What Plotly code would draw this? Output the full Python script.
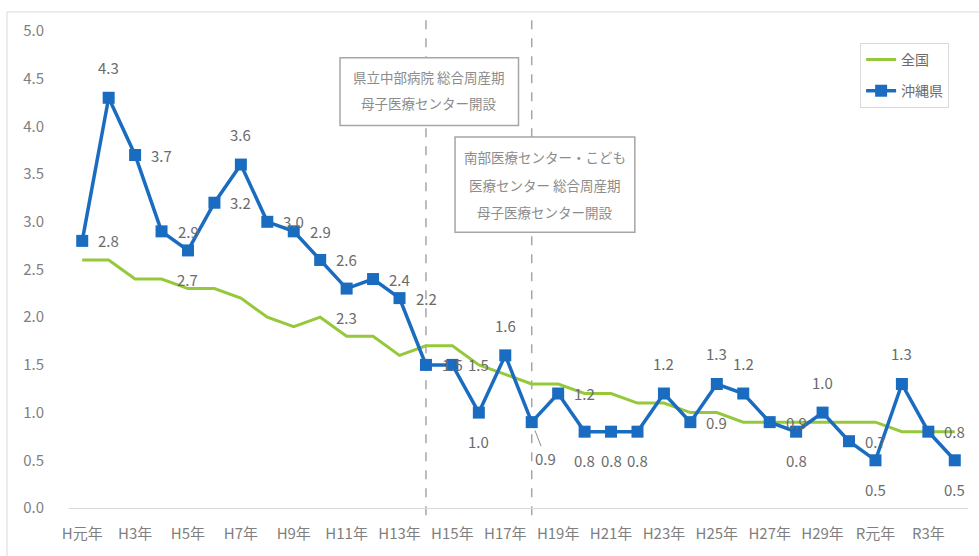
import plotly.graph_objects as go

# 年次（平成・令和）
years = [
    "H元年", "H2年", "H3年", "H4年", "H5年", "H6年", "H7年", "H8年", "H9年", "H10年",
    "H11年", "H12年", "H13年", "H14年", "H15年", "H16年", "H17年", "H18年", "H19年", "H20年",
    "H21年", "H22年", "H23年", "H24年", "H25年", "H26年", "H27年", "H28年", "H29年", "H30年",
    "R元年", "R2年", "R3年", "R4年",
]

# 全国
national = [
    2.6, 2.6, 2.4, 2.4, 2.3, 2.3, 2.2, 2.0, 1.9, 2.0,
    1.8, 1.8, 1.6, 1.7, 1.7, 1.5, 1.4, 1.3, 1.3, 1.2,
    1.2, 1.1, 1.1, 1.0, 1.0, 0.9, 0.9, 0.9, 0.9, 0.9,
    0.9, 0.8, 0.8, 0.8,
]

# 沖縄県
okinawa = [
    2.8, 4.3, 3.7, 2.9, 2.7, 3.2, 3.6, 3.0, 2.9, 2.6,
    2.3, 2.4, 2.2, 1.5, 1.5, 1.0, 1.6, 0.9, 1.2, 0.8,
    0.8, 0.8, 1.2, 0.9, 1.3, 1.2, 0.9, 0.8, 1.0, 0.7,
    0.5, 1.3, 0.8, 0.5,
]

# データラベルの配置（r: 右, t: 上, b: 下, br: 右下・引き出し線付き）
label_side = [
    "r", "t", "r", "r", "b", "r", "t", "r", "r", "r",
    "b", "r", "r", "r", "r", "b", "t", "br", "r", "b",
    "b", "b", "t", "r", "t", "t", "r", "b", "t", "r",
    "b", "t", "r", "b",
]

tick_labels = years[::2]

events = [
    ("H14年", ["県立中部病院 総合周産期", "母子医療センター開設"]),
    ("H18年", ["南部医療センター・こども", "医療センター 総合周産期", "母子医療センター開設"]),
]

FONT = "Noto Sans CJK JP, Meiryo, sans-serif"
BLUE = "#1A6CC0"
GREEN = "#96C83C"
GRAY_TXT = "#6b6b6b"

fig = go.Figure()

fig.add_trace(go.Scatter(
    x=years, y=national, name="全国", mode="lines",
    line=dict(color=GREEN, width=3), legendgroup="a",
))
fig.add_trace(go.Scatter(
    x=years, y=okinawa, name="沖縄県", mode="lines+markers",
    line=dict(color=BLUE, width=3.5),
    marker=dict(symbol="square", size=12, color=BLUE),
    legendgroup="b",
))

# 沖縄県の数値ラベル
annotations = []
for i, (yr, v, side) in enumerate(zip(years, okinawa, label_side)):
    a = dict(x=i, y=v, xref="x", yref="y", text=f"{v:.1f}", showarrow=False,
             font=dict(family=FONT, size=15, color=GRAY_TXT))
    if side == "r":
        a.update(xanchor="left", yanchor="middle", xshift=14)
    elif side == "t":
        a.update(xanchor="center", yanchor="middle", yshift=30)
    elif side == "b":
        a.update(xanchor="center", yanchor="middle", yshift=-29)
    elif side == "br":
        a.update(showarrow=True, ax=14, ay=36, arrowhead=0, arrowwidth=1,
                 arrowcolor="#8c8c8c", standoff=9)
    annotations.append(a)

shapes = []
# 外枠
shapes.append(dict(type="rect", xref="paper", yref="paper",
                   x0=-0.069, x1=1.03, y0=-0.12, y1=1.04,
                   line=dict(color="#d9d9d9", width=1), layer="below"))

# 開設年の縦破線
for yr, _ in events:
    xi = years.index(yr)
    shapes.append(dict(type="line", xref="x", yref="paper", x0=xi, x1=xi,
                       y0=-0.015, y1=1.035,
                       line=dict(color="#a6a6a6", width=1.5, dash="dash"),
                       layer="below"))

# 説明ボックス（データ座標: x=年次の位置, y=率）
boxes = [
    dict(x0=9.75, x1=16.5, y0=4.01, y1=4.72, lines_y=[4.52, 4.25]),
    dict(x0=14.1, x1=20.9, y0=2.89, y1=3.89, lines_y=[3.68, 3.39, 3.10]),
]
for (yr, lines), b in zip(events, boxes):
    shapes.append(dict(type="rect", xref="x", yref="y",
                       x0=b["x0"], x1=b["x1"], y0=b["y0"], y1=b["y1"],
                       fillcolor="white", line=dict(color="#a6a6a6", width=1.5),
                       layer="above"))
    cx = (b["x0"] + b["x1"]) / 2
    for txt, ly in zip(lines, b["lines_y"]):
        annotations.append(dict(x=cx, y=ly, xref="x", yref="y", text=txt,
                                showarrow=False, xanchor="center", yanchor="middle",
                                font=dict(family=FONT, size=13.5, color="#8c8c8c")))

fig.update_layout(
    width=979, height=556,
    margin=dict(l=69, r=11, t=31, b=48),
    paper_bgcolor="white", plot_bgcolor="white",
    font=dict(family=FONT, size=14, color="#7f7f7f"),
    showlegend=True,
    legend=dict(
        x=0.88, y=0.975, xanchor="left", yanchor="top",
        bgcolor="white", bordercolor="#d9d9d9", borderwidth=1,
        font=dict(family=FONT, size=14, color=GRAY_TXT),
        tracegroupgap=10, traceorder="grouped",
    ),
    xaxis=dict(
        type="category", categoryorder="array", categoryarray=years,
        range=[-0.5, len(years) - 0.5],
        tickmode="array", tickvals=tick_labels, ticktext=tick_labels,
        showgrid=False, zeroline=False, ticks="",
        showline=True, linecolor="#d9d9d9", linewidth=1,
        tickfont=dict(family=FONT, size=15, color="#7f7f7f"),
        ticklabelstandoff=12,
    ),
    yaxis=dict(
        range=[0, 5], dtick=0.5, tick0=0, tickformat=".1f",
        showgrid=False, zeroline=False, ticks="", showline=False,
        tickfont=dict(family=FONT, size=15, color="#7f7f7f"),
        ticklabelstandoff=24,
    ),
    shapes=shapes,
    annotations=annotations,
)

fig.write_html("out.html")
